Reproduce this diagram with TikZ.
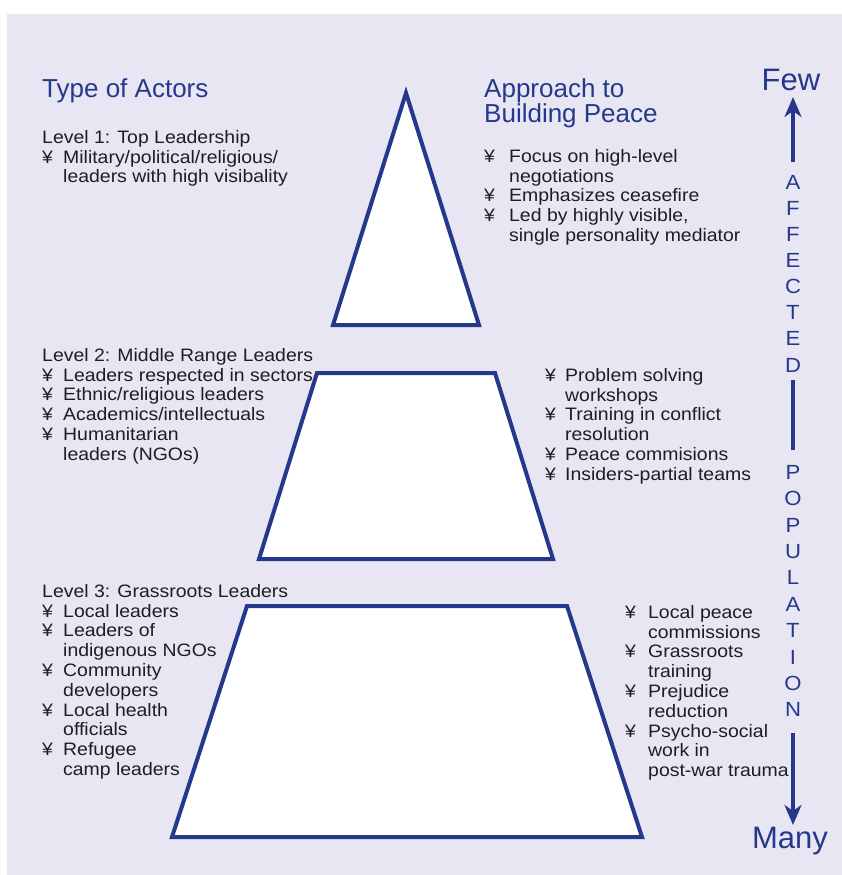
\documentclass[tikz,border=0pt]{standalone}
\usepackage{fontspec}
\setmainfont{Liberation Sans}[FakeStretch=1.08]
\newfontfamily\titlefont{Liberation Sans}
\usetikzlibrary{arrows.meta}
\definecolor{navy}{RGB}{38,56,140}
\definecolor{lav}{RGB}{232,230,243}
\definecolor{ink}{RGB}{30,30,30}
\newcommand\yb[1]{\makebox[#1][l]{¥}}
\newcommand\yi[1]{\hspace*{#1}}
\newcommand\fs{\rule{0pt}{14pt}}
\begin{document}
\begin{tikzpicture}[x=1pt,y=-1pt,
  tier/.style={draw=navy,line width=4pt,fill=white,line join=miter},
  body/.style={anchor=north west,inner sep=0pt,align=left,text=ink,font=\fontsize{18}{19.8}\selectfont},
  ttl/.style={inner sep=0pt,align=left,text=navy,font=\titlefont\fontsize{26}{25}\selectfont},
  vlet/.style={anchor=base,inner sep=0pt,text=navy,font=\fontsize{20.5}{20.5}\selectfont},
  big/.style={anchor=base,inner sep=0pt,text=navy,font=\titlefont\fontsize{31}{31}\selectfont},
  axis/.style={draw=navy,line width=3.2pt},
  axisarr/.style={axis,-{Stealth[length=20pt,width=17pt,inset=6pt]}}]
\useasboundingbox (0,0) rectangle (842,875);
\fill[white] (0,0) rectangle (842,875);
\fill[lav] (7,14) rectangle (842,875);

% pyramid
\draw[tier] (406,93) -- (479,325) -- (333,325) -- cycle;
\draw[tier] (317,373) -- (495,373) -- (553,559) -- (259,559) -- cycle;
\draw[tier] (247,606) -- (567,606) -- (642,837) -- (172,837) -- cycle;

% titles
\node[ttl,anchor=base west] (tleft) at (42,97) {Type of Actors};
\node[ttl,anchor=north west] (tright) at (484,77) {\rule{0pt}{20pt}Approach to\\Building Peace};

% left texts
\node[body] (lvl1) at (42,129) {\fs Level 1: Top Leadership\\
\yb{21pt}Military/political/religious/\\
\yi{21pt}leaders with high visibality};

\node[body] (lvl2) at (42,347) {\fs Level 2: Middle Range Leaders\\
\yb{21pt}Leaders respected in sectors\\
\yb{21pt}Ethnic/religious leaders\\
\yb{21pt}Academics/intellectuals\\
\yb{21pt}Humanitarian\\
\yi{21pt}leaders (NGOs)};

\node[body] (lvl3) at (42,583) {\fs Level 3: Grassroots Leaders\\
\yb{21pt}Local leaders\\
\yb{21pt}Leaders of\\
\yi{21pt}indigenous NGOs\\
\yb{21pt}Community\\
\yi{21pt}developers\\
\yb{21pt}Local health\\
\yi{21pt}officials\\
\yb{21pt}Refugee\\
\yi{21pt}camp leaders};

% right texts
\node[body] (app1) at (484,148) {\fs\yb{25pt}Focus on high-level\\
\yi{25pt}negotiations\\
\yb{25pt}Emphasizes ceasefire\\
\yb{25pt}Led by highly visible,\\
\yi{25pt}single personality mediator};

\node[body] (app2) at (545,367) {\fs\yb{20pt}Problem solving\\
\yi{20pt}workshops\\
\yb{20pt}Training in conflict\\
\yi{20pt}resolution\\
\yb{20pt}Peace commisions\\
\yb{20pt}Insiders-partial teams};

\node[body] (app3) at (625,604) {\fs\yb{23pt}Local peace\\
\yi{23pt}commissions\\
\yb{23pt}Grassroots\\
\yi{23pt}training\\
\yb{23pt}Prejudice\\
\yi{23pt}reduction\\
\yb{23pt}Psycho-social\\
\yi{23pt}work in\\
\yi{23pt}post-war trauma};

% affected population axis
\node[big] (few) at (791,90) {Few};
\node[big] (many) at (790,848) {Many};
\foreach \ch [count=\i from 0] in {A,F,F,E,C,T,E,D}
  \node[vlet] (aff\i) at (793,{189.3+26.1*\i}) {\ch};
\foreach \ch [count=\i from 0] in {P,O,P,U,L,A,T,I,O,N}
  \node[vlet] (pop\i) at (793,{479.3+26.4*\i}) {\ch};
\coordinate (upstart) at (793,162);
\coordinate (uptip) at (793,97);
\coordinate (midtop) at (793,380);
\coordinate (midbot) at (793,450);
\coordinate (downstart) at (793,733);
\coordinate (downtip) at (793,825);
\draw[axisarr] (upstart) -- (uptip);
\draw[axis] (midtop) -- (midbot);
\draw[axisarr] (downstart) -- (downtip);
\end{tikzpicture}
\end{document}
